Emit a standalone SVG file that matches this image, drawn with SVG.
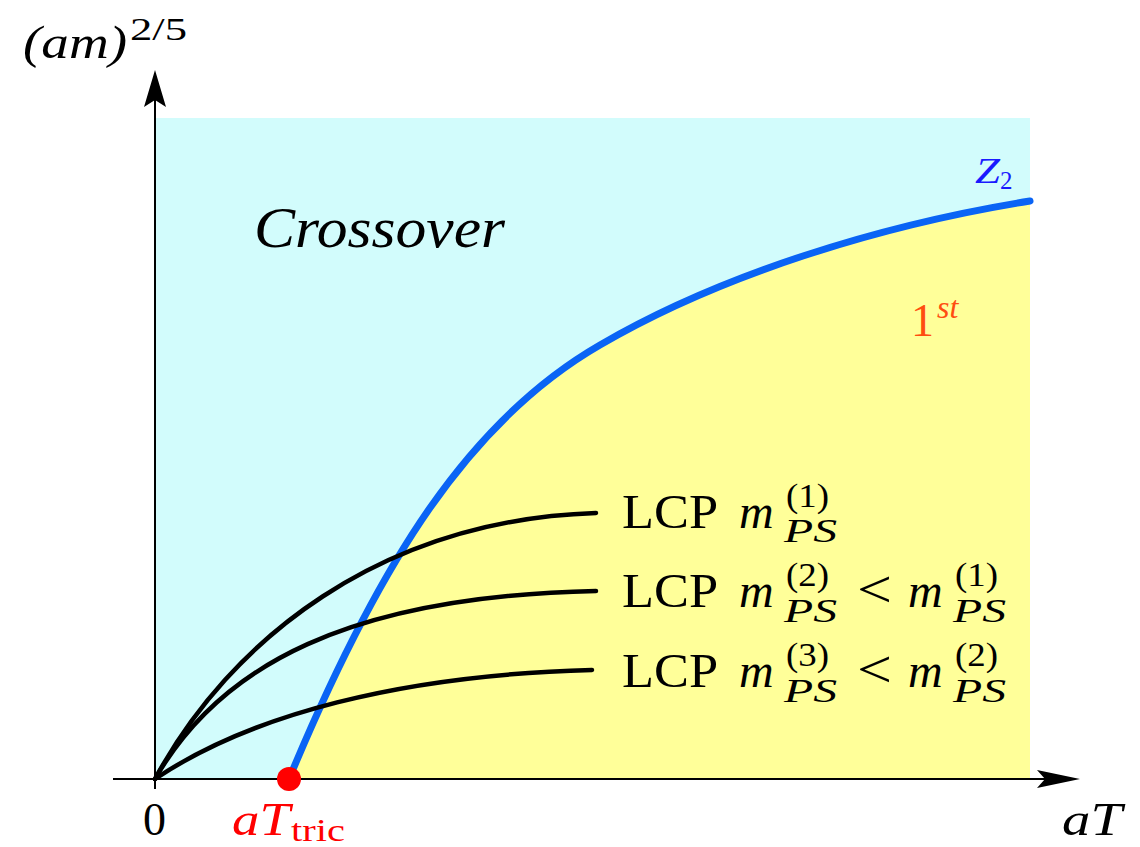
<svg xmlns="http://www.w3.org/2000/svg" width="1140" height="847" viewBox="0 0 1140 847">
<style>
.t{font-family:"Liberation Serif","DejaVu Serif",serif;fill:#000}
.i{font-style:italic}
.crv{fill:none;stroke:#000;stroke-width:4.5;stroke-linecap:round}
.ax{stroke:#000;stroke-width:2;fill:none}
</style>
<rect width="1140" height="847" fill="#fff"/>
<g id="regions">
<rect id="crossover-region" x="155" y="118" width="875" height="661" fill="#d2fcfc"/>
<path id="first-order-region" d="M289,779 C380,560 470,420 600,345 C720,275 880,225 1030,201 L1030,779 Z" fill="#ffff99"/>
</g>
<g id="axes">
<line class="ax" x1="113" y1="779" x2="1045" y2="779"/>
<line class="ax" x1="155" y1="789" x2="155" y2="100"/>
<path d="M1080,779 L1037,770 L1045,779 L1037,788 Z" fill="#000"/>
<path d="M155,70 L144,107 L155,100 L166,107 Z" fill="#000"/>
</g>
<g id="connectors">
<path id="z2-line" d="M289,779 C380,560 470,420 600,345 C720,275 880,225 1030,201" fill="none" stroke="#0a64f5" stroke-width="7" stroke-linecap="round"/>
<path id="lcp1" class="crv" d="M155,779 C230,640 380,520 596,513"/>
<path id="lcp2" class="crv" d="M155,779 C220,665 350,596 596,591"/>
<path id="lcp3" class="crv" d="M155,779 C250,715 400,675 592,670"/>
</g>
<g id="tric-point">
<circle cx="289" cy="779" r="12" fill="#ff0000"/>
</g>
<g id="labels">
<text class="t i" x="23" y="58" font-size="46" textLength="104" lengthAdjust="spacingAndGlyphs">(am)</text>
<text class="t" x="130" y="40" font-size="32" textLength="57" lengthAdjust="spacingAndGlyphs">2/5</text>
<text class="t i" x="254" y="247" font-size="58" textLength="251" lengthAdjust="spacingAndGlyphs">Crossover</text>
<text class="t i" x="975" y="183" font-size="36" textLength="25" lengthAdjust="spacingAndGlyphs" style="fill:#1a1aff">Z</text>
<text class="t" x="1000" y="189" font-size="25" style="fill:#1a1aff">2</text>
<text class="t" x="911" y="336" font-size="46" style="fill:#ff4d10">1</text>
<text class="t i" x="937" y="318" font-size="32" style="fill:#ff4d10">st</text>
<text class="t" x="143" y="835" font-size="46">0</text>
<text class="t i" x="232" y="835" font-size="46" textLength="58" lengthAdjust="spacingAndGlyphs" style="fill:#ff0000">aT</text>
<text class="t" x="291" y="841" font-size="32" textLength="54" lengthAdjust="spacingAndGlyphs" style="fill:#ff0000">tric</text>
<text class="t i" x="1062" y="835" font-size="46" textLength="60" lengthAdjust="spacingAndGlyphs">aT</text>
</g>
<g id="lcp1-label">
<text class="t" x="622" y="528" font-size="48" textLength="96" lengthAdjust="spacingAndGlyphs">LCP</text>
<text class="t i" x="739" y="528" font-size="48">m</text>
<text class="t" x="786" y="507" font-size="34" textLength="43" lengthAdjust="spacingAndGlyphs">(1)</text>
<text class="t i" x="784" y="542" font-size="34" textLength="53" lengthAdjust="spacingAndGlyphs">PS</text>
</g>
<g id="lcp2-label">
<text class="t" x="622" y="607" font-size="48" textLength="96" lengthAdjust="spacingAndGlyphs">LCP</text>
<text class="t i" x="739" y="607" font-size="48">m</text>
<text class="t" x="786" y="586" font-size="34" textLength="43" lengthAdjust="spacingAndGlyphs">(2)</text>
<text class="t i" x="784" y="622" font-size="34" textLength="53" lengthAdjust="spacingAndGlyphs">PS</text>
<text class="t" x="857" y="607" font-size="52" textLength="35" lengthAdjust="spacingAndGlyphs">&lt;</text>
<text class="t i" x="908" y="607" font-size="48">m</text>
<text class="t" x="955" y="586" font-size="34" textLength="43" lengthAdjust="spacingAndGlyphs">(1)</text>
<text class="t i" x="953" y="622" font-size="34" textLength="53" lengthAdjust="spacingAndGlyphs">PS</text>
</g>
<g id="lcp3-label">
<text class="t" x="622" y="687" font-size="48" textLength="96" lengthAdjust="spacingAndGlyphs">LCP</text>
<text class="t i" x="739" y="687" font-size="48">m</text>
<text class="t" x="786" y="666" font-size="34" textLength="43" lengthAdjust="spacingAndGlyphs">(3)</text>
<text class="t i" x="784" y="702" font-size="34" textLength="53" lengthAdjust="spacingAndGlyphs">PS</text>
<text class="t" x="857" y="687" font-size="52" textLength="35" lengthAdjust="spacingAndGlyphs">&lt;</text>
<text class="t i" x="908" y="687" font-size="48">m</text>
<text class="t" x="955" y="666" font-size="34" textLength="43" lengthAdjust="spacingAndGlyphs">(2)</text>
<text class="t i" x="953" y="702" font-size="34" textLength="53" lengthAdjust="spacingAndGlyphs">PS</text>
</g>
</svg>
